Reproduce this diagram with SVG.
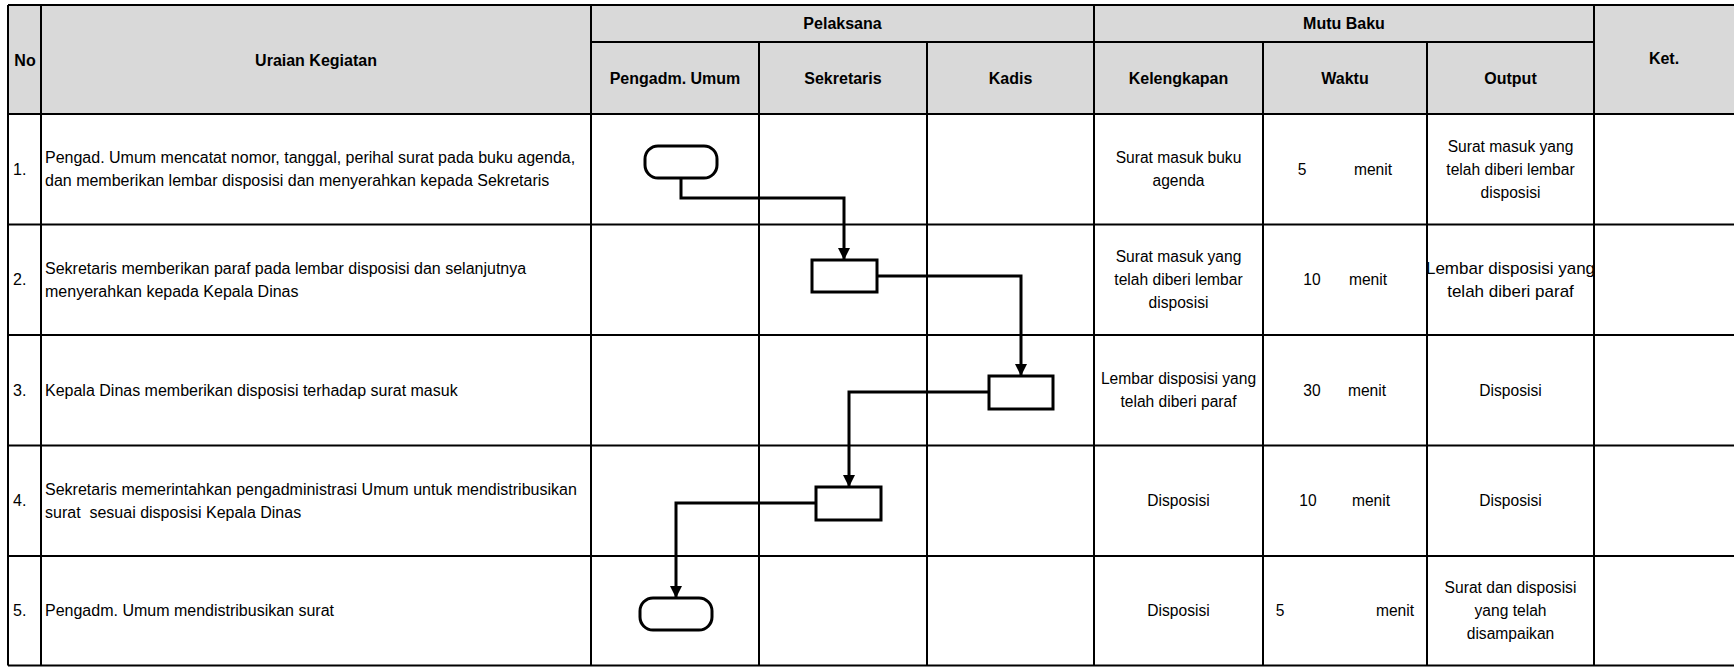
<svg xmlns="http://www.w3.org/2000/svg" width="1734" height="667" viewBox="0 0 1734 667">
<style>
text{font-family:"Liberation Sans",Arial,sans-serif;fill:#000}
.h{font-size:16px;font-weight:bold;text-anchor:middle}
.u{font-size:16px}
.n{font-size:16px}
.c{font-size:15.6px;text-anchor:middle}
.g{stroke:#000;stroke-width:2;fill:none}
.shape{fill:#fff;stroke:#000;stroke-width:3}
.conn{fill:none;stroke:#000;stroke-width:3}
</style>
<defs>
<marker id="arr" markerUnits="userSpaceOnUse" markerWidth="12" markerHeight="12" viewBox="0 0 12 12" refX="12" refY="6" orient="auto">
<path d="M0,0 L12,6 L0,12 Z" fill="#000"/>
</marker>
</defs>
<g id="table">
<rect x="8" y="5" width="1730" height="109" fill="#d9d9d9"/>
<path class="g" d="M8,5H1734M591,42H1594M8,114H1734M8,224.5H1734M8,335H1734M8,445.5H1734M8,556H1734M8,665.5H1734"/>
<path class="g" d="M8,5V665.5M41,5V665.5M591,5V665.5M759,42V665.5M927,42V665.5M1094,5V665.5M1263,42V665.5M1427,42V665.5M1594,5V665.5"/>
</g>
<g id="header">
<text class="h" x="25" y="65.5">No</text>
<text class="h" x="316" y="65.5">Uraian Kegiatan</text>
<text class="h" x="842.5" y="29">Pelaksana</text>
<text class="h" x="1344" y="29">Mutu Baku</text>
<text class="h" x="1664" y="64">Ket.</text>
<text class="h" x="675" y="83.5">Pengadm. Umum</text>
<text class="h" x="843" y="83.5">Sekretaris</text>
<text class="h" x="1010.5" y="83.5">Kadis</text>
<text class="h" x="1178.5" y="83.5">Kelengkapan</text>
<text class="h" x="1345" y="83.5">Waktu</text>
<text class="h" x="1510.5" y="83.5">Output</text>
</g>
<g id="rows">
<text class="n" x="13" y="174.5">1.</text>
<text class="u" x="45" y="163">Pengad. Umum mencatat nomor, tanggal, perihal surat pada buku agenda,</text>
<text class="u" x="45" y="186">dan memberikan lembar disposisi dan menyerahkan kepada Sekretaris</text>
<text class="n" x="13" y="285">2.</text>
<text class="u" x="45" y="273.5">Sekretaris memberikan paraf pada lembar disposisi dan selanjutnya</text>
<text class="u" x="45" y="296.5">menyerahkan kepada Kepala Dinas</text>
<text class="n" x="13" y="395.5">3.</text>
<text class="u" x="45" y="395.5">Kepala Dinas memberikan disposisi terhadap surat masuk</text>
<text class="n" x="13" y="506">4.</text>
<text class="u" x="45" y="494.5">Sekretaris memerintahkan pengadministrasi Umum untuk mendistribusikan</text>
<text class="u" x="45" y="517.5" xml:space="preserve">surat  sesuai disposisi Kepala Dinas</text>
<text class="n" x="13" y="616">5.</text>
<text class="u" x="45" y="616">Pengadm. Umum mendistribusikan surat</text>

<text class="c" x="1178.5" y="163">Surat masuk buku</text>
<text class="c" x="1178.5" y="186">agenda</text>
<text class="c" x="1302" y="174.5">5</text>
<text class="c" x="1373" y="174.5">menit</text>
<text class="c" x="1510.5" y="151.5">Surat masuk yang</text>
<text class="c" x="1510.5" y="174.5">telah diberi lembar</text>
<text class="c" x="1510.5" y="197.5">disposisi</text>

<text class="c" x="1178.5" y="262">Surat masuk yang</text>
<text class="c" x="1178.5" y="285">telah diberi lembar</text>
<text class="c" x="1178.5" y="308">disposisi</text>
<text class="c" x="1312" y="285">10</text>
<text class="c" x="1368" y="285">menit</text>
<text class="c" x="1510.5" y="273.5" style="font-size:17px">Lembar disposisi yang</text>
<text class="c" x="1510.5" y="296.5" style="font-size:17px">telah diberi paraf</text>

<text class="c" x="1178.5" y="384">Lembar disposisi yang</text>
<text class="c" x="1178.5" y="407">telah diberi paraf</text>
<text class="c" x="1312" y="395.5">30</text>
<text class="c" x="1367" y="395.5">menit</text>
<text class="c" x="1510.5" y="395.5">Disposisi</text>

<text class="c" x="1178.5" y="506">Disposisi</text>
<text class="c" x="1308" y="506">10</text>
<text class="c" x="1371" y="506">menit</text>
<text class="c" x="1510.5" y="506">Disposisi</text>

<text class="c" x="1178.5" y="616">Disposisi</text>
<text class="c" x="1280" y="616">5</text>
<text class="c" x="1395" y="616">menit</text>
<text class="c" x="1510.5" y="593">Surat dan disposisi</text>
<text class="c" x="1510.5" y="616">yang telah</text>
<text class="c" x="1510.5" y="639">disampaikan</text>
</g>
<g id="connectors">
<path class="conn" d="M681,178V198H844V260" marker-end="url(#arr)"/>
<path class="conn" d="M877,276H1021V376" marker-end="url(#arr)"/>
<path class="conn" d="M989,392H849V487" marker-end="url(#arr)"/>
<path class="conn" d="M816,503H676V598" marker-end="url(#arr)"/>
</g>
<g id="n1"><rect class="shape" x="645" y="146" width="72" height="32" rx="13"/></g>
<g id="n2"><rect class="shape" x="812" y="260" width="65" height="32"/></g>
<g id="n3"><rect class="shape" x="989" y="376" width="64" height="33"/></g>
<g id="n4"><rect class="shape" x="816" y="487" width="65" height="33"/></g>
<g id="n5"><rect class="shape" x="640" y="598" width="72" height="32" rx="13"/></g>
</svg>
